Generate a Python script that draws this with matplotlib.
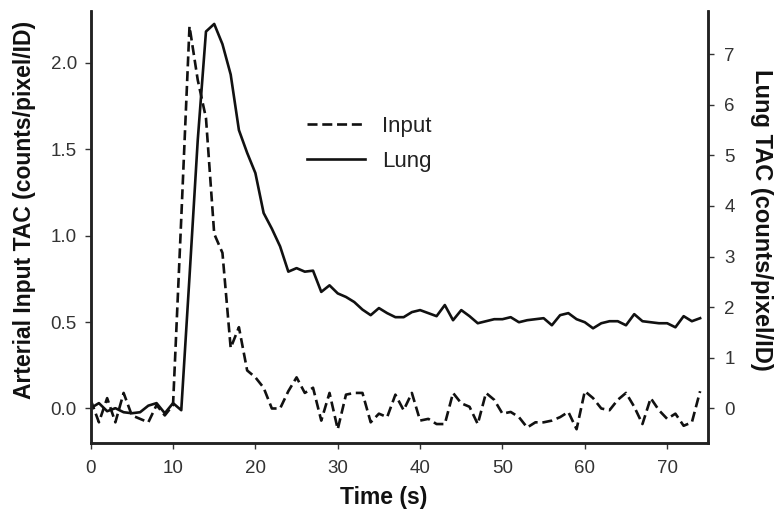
import numpy as np
import matplotlib.pyplot as plt

plt.rcParams['font.family'] = ['Liberation Sans', 'DejaVu Sans']

time_s = list(range(75))

input_tac = [0.05, -0.08, 0.06, -0.08, 0.09, -0.04, -0.06, -0.08, 0.02, -0.04,
             0.02, 1.10, 2.21, 1.90, 1.68, 1.01, 0.90, 0.35, 0.47, 0.22,
             0.18, 0.12, 0.00, 0.00, 0.10, 0.18, 0.09, 0.12, -0.07, 0.09,
             -0.12, 0.08, 0.09, 0.09, -0.08, -0.03, -0.05, 0.08, -0.01, 0.09,
             -0.07, -0.06, -0.09, -0.09, 0.09, 0.03, 0.01, -0.09, 0.09, 0.05,
             -0.03, -0.02, -0.05, -0.11, -0.08, -0.08, -0.07, -0.05, -0.02, -0.12,
             0.10, 0.06, 0.00, -0.01, 0.05, 0.09, 0.01, -0.09, 0.06, -0.01,
             -0.06, -0.03, -0.10, -0.08, 0.10]

lung_tac = [0.0, 0.1, -0.06, 0.0, -0.08, -0.1, -0.08, 0.05, 0.1, -0.1,
            0.1, -0.04, 2.6, 5.3, 7.45, 7.6, 7.2, 6.6, 5.5, 5.05,
            4.65, 3.86, 3.55, 3.2, 2.7, 2.77, 2.7, 2.72, 2.3, 2.43,
            2.27, 2.2, 2.1, 1.95, 1.84, 1.98, 1.88, 1.8, 1.8, 1.9,
            1.94, 1.88, 1.82, 2.04, 1.74, 1.94, 1.82, 1.68, 1.72, 1.76,
            1.76, 1.8, 1.7, 1.74, 1.76, 1.78, 1.64, 1.84, 1.88, 1.76,
            1.7, 1.58, 1.68, 1.72, 1.72, 1.64, 1.86, 1.72, 1.7, 1.68,
            1.68, 1.6, 1.82, 1.72, 1.78]

left_ticks = [0.0, 0.5, 1.0, 1.5, 2.0]
right_ticks = [0, 1, 2, 3, 4, 5, 6, 7]
x_ticks = [0, 10, 20, 30, 40, 50, 60, 70]

ink = '#111111'
tick_col = '#333333'

fig = plt.figure(figsize=(7.75, 5.14), dpi=100)
ax = fig.add_axes([0.117, 0.138, 0.797, 0.841])
ax2 = ax.twinx()

l1, = ax.plot(time_s, input_tac, color=ink, lw=1.9, dashes=(3.8, 1.8), label='Input')
l2, = ax2.plot(time_s, lung_tac, color=ink, lw=1.9, label='Lung')

ax.set_xlim(0, 75)
ax.set_ylim(-0.2, 2.3)
ax2.set_ylim(-0.69, 7.86)

ax.set_xticks(x_ticks)
ax.set_yticks(left_ticks)
ax.set_yticklabels(['%.1f' % v for v in left_ticks])
ax2.set_yticks(right_ticks)

for a in (ax, ax2):
    a.spines['top'].set_visible(False)
    for s in ('left', 'right', 'bottom'):
        a.spines[s].set_linewidth(1.8)
        a.spines[s].set_color('#222222')
    a.tick_params(direction='out', length=4, width=1, colors=tick_col,
                  labelsize=13.5, labelcolor=tick_col, pad=6)
ax.tick_params(axis='x', pad=8.5)
ax2.tick_params(axis='y', pad=7.5)

ax.set_xlabel('Time (s)', fontsize=16.5, fontweight='bold', color=ink)
ax.xaxis.set_label_coords(0.475, -0.10)
ax.set_ylabel('Arterial Input TAC (counts/pixel/ID)', fontsize=16.5,
              fontweight='bold', color=ink)
ax.yaxis.set_label_coords(-0.088, 0.539)
ax2.set_ylabel('Lung TAC (counts/pixel/ID)', fontsize=17, fontweight='bold',
               color=ink, rotation=270, va='bottom')
ax2.yaxis.set_label_coords(1.067, 0.516)

leg = ax.legend(handles=[l1, l2], loc='upper left', bbox_to_anchor=(0.351, 0.756),
                frameon=False, fontsize=16, handlelength=2.6, handletextpad=0.75,
                labelspacing=0.6, borderpad=0, borderaxespad=0)
for t in leg.get_texts():
    t.set_color('#222222')

fig.savefig('out.png', dpi=100)
